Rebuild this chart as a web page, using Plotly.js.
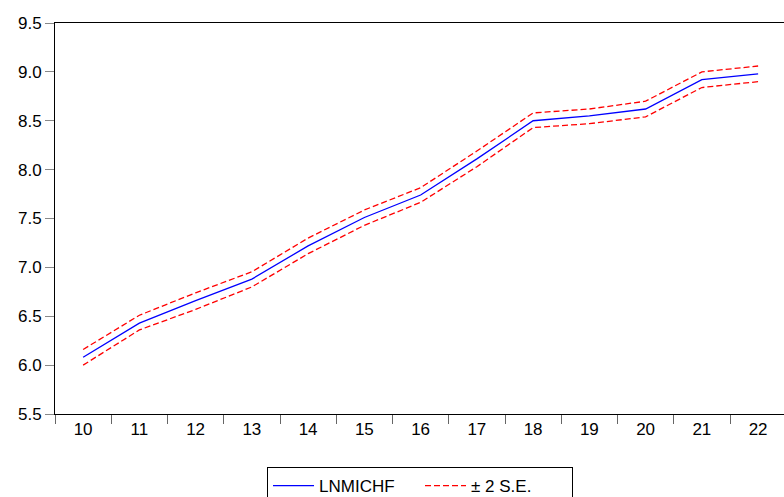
<!DOCTYPE html>
<html>
<head>
<meta charset="utf-8">
<script src="https://cdn.plot.ly/plotly-3.0.1.min.js"></script>
<style>html,body{margin:0;padding:0;background:#fff;}#chart{width:784px;height:497px;}</style>
</head>
<body>
<div id="chart"></div>
<script>
var periods = ["10","11","12","13","14","15","16","17","18","19","20","21","22"];
var forecast = [6.08, 6.43, 6.66, 6.88, 7.22, 7.51, 7.74, 8.11, 8.50, 8.55, 8.62, 8.92, 8.98];
var upperBand = [6.16, 6.51, 6.74, 6.955, 7.30, 7.587, 7.815, 8.19, 8.58, 8.62, 8.70, 9.00, 9.06];
var lowerBand = [6.00, 6.36, 6.57, 6.80, 7.14, 7.43, 7.665, 8.03, 8.43, 8.47, 8.54, 8.84, 8.90];
var yTicks = [5.5, 6.0, 6.5, 7.0, 7.5, 8.0, 8.5, 9.0, 9.5];

var traces = [
  {x: periods, y: forecast, type: "scatter", mode: "lines", name: "LNMICHF",
   line: {color: "#0000ff", width: 1.3}},
  {x: periods, y: upperBand, type: "scatter", mode: "lines", name: "\u00b1 2 S.E.",
   line: {color: "#ff0000", width: 1.3, dash: "6px,3px"}, legendgroup: "se"},
  {x: periods, y: lowerBand, type: "scatter", mode: "lines", name: "\u00b1 2 S.E.",
   line: {color: "#ff0000", width: 1.3, dash: "6px,3px"}, legendgroup: "se", showlegend: false}
];

var layout = {
  width: 784, height: 497,
  margin: {l: 55, r: 0, t: 23, b: 83, autoexpand: false},
  paper_bgcolor: "#fff", plot_bgcolor: "#fff",
  font: {family: "Liberation Sans, Arial, sans-serif", size: 17, color: "#000"},
  showlegend: true,
  legend: {orientation: "h", x: 0.5007, xanchor: "center", y: -0.1355, yanchor: "top",
           bordercolor: "#000", borderwidth: 1, font: {size: 17, color: "#000"},
           itemwidth: 41, traceorder: "normal", entrywidth: 96},
  xaxis: {type: "category", range: [-0.5, 12.46], tickson: "boundaries",
          showgrid: false, zeroline: false, showline: true, linecolor: "#000", linewidth: 1,
          mirror: true, ticks: "outside", ticklen: 9, tickcolor: "#666", tickwidth: 1,
          tickfont: {size: 17, color: "#000"}},
  yaxis: {range: [5.5, 9.5], tickvals: yTicks, ticktext: yTicks.map(function(v){return v.toFixed(1);}),
          showgrid: false, zeroline: false, showline: true, linecolor: "#000", linewidth: 1,
          mirror: false, ticks: "outside", ticklen: 9, tickcolor: "#888", tickwidth: 1,
          tickfont: {size: 17, color: "#000"}}
};

Plotly.newPlot("chart", traces, layout, {displayModeBar: false, staticPlot: true});
</script>
</body>
</html>
